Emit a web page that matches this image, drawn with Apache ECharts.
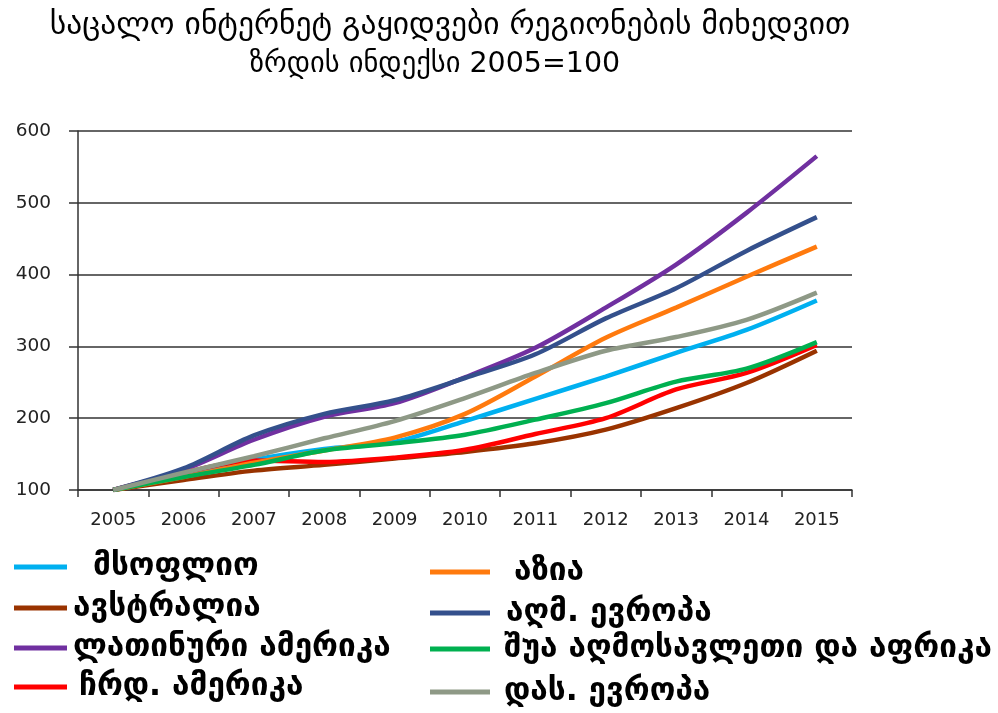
<!DOCTYPE html>
<html>
<head>
<meta charset="utf-8">
<script src="https://cdn.jsdelivr.net/npm/echarts@6/dist/echarts.min.js"></script>
<style>
  html, body { margin: 0; padding: 0; background: #fff; }
  #chart { width: 998px; height: 713px; }
</style>
</head>
<body>
<div id="chart"></div>
<script>
// Online retail sales growth by region, index 2005 = 100
const years = ['2005', '2006', '2007', '2008', '2009', '2010', '2011', '2012', '2013', '2014', '2015'];

const world        = [100, 120, 142, 157, 167, 196, 227, 258, 291, 323, 364];
const australia    = [100, 114, 127, 135, 144, 153, 165, 184, 214, 249, 294];
const latinAmerica = [100, 128, 170, 202, 221, 257, 298, 354, 414, 486, 565];
const northAmerica = [100, 124, 141, 139, 145, 156, 178, 200, 240, 263, 302];
const asia         = [100, 118, 138, 155, 173, 206, 258, 312, 354, 397, 439];
const eastEurope   = [100, 130, 176, 206, 225, 256, 289, 339, 381, 433, 480];
const meAfrica     = [100, 118, 135, 155, 165, 177, 198, 221, 251, 269, 306];
const westEurope   = [100, 124, 147, 172, 196, 228, 263, 294, 313, 337, 375];

const yTicks = [100, 200, 300, 400, 500, 600];

const seriesDefs = [
  { name: 'მსოფლიო',            data: world,        color: '#00B0F0' },
  { name: 'ავსტრალია',          data: australia,    color: '#993300' },
  { name: 'ლათინური ამერიკა',   data: latinAmerica, color: '#7030A0' },
  { name: 'ჩრდ. ამერიკა',       data: northAmerica, color: '#FF0000' },
  { name: 'აზია',               data: asia,         color: '#FF7A0E' },
  { name: 'აღმ. ევროპა',        data: eastEurope,   color: '#34508C' },
  { name: 'შუა აღმოსავლეთი და აფრიკა', data: meAfrica, color: '#00B050' },
  { name: 'დას. ევროპა',        data: westEurope,   color: '#8E9986' }
];

// legend slots: [symbol left, symbol centre y, symbol width, gap to text]
const legendSlots = [
  [14, 567, 53, 26],
  [14, 608, 53, 6],
  [14, 648, 53, 6],
  [14, 687, 53, 12],
  [430, 572, 60, 24],
  [430, 613, 60, 16],
  [430, 649, 60, 14],
  [430, 692, 60, 14]
];

const FONT = 'DejaVu Sans';
const chart = echarts.init(document.getElementById('chart'), null, { renderer: 'canvas' });

const legends = seriesDefs.map((s, i) => {
  const [lx, cy, w, gap] = legendSlots[i];
  return {
    data: [s.name],
    left: lx, top: cy - 18,
    padding: 0,
    icon: 'rect', itemWidth: w, itemHeight: 5, itemGap: 0,
    textStyle: {
      fontFamily: FONT, fontSize: 31.5, fontWeight: 'bold', color: '#000',
      lineHeight: 36, padding: [0, 0, 0, gap - 5]
    }
  };
});

chart.setOption({
  backgroundColor: '#fff',
  animation: false,
  title: [
    {
      text: 'საცალო ინტერნეტ გაყიდვები რეგიონების მიხედვით',
      left: 445, top: 5, textAlign: 'center',
      textStyle: { fontFamily: FONT, fontSize: 31.5, fontWeight: 'normal', color: '#000' }
    },
    {
      text: 'ზრდის ინდექსი 2005=100',
      left: 430, top: 45, textAlign: 'center',
      textStyle: { fontFamily: FONT, fontSize: 28.5, fontWeight: 'normal', color: '#000' }
    }
  ],
  grid: { left: 78, right: 146, top: 131, bottom: 223, containLabel: false },
  xAxis: {
    type: 'category',
    data: years,
    boundaryGap: true,
    axisLine: { show: true, lineStyle: { color: '#333', width: 1.5 } },
    axisTick: { show: true, alignWithLabel: false, length: 7, lineStyle: { color: '#333', width: 1.5 } },
    axisLabel: { fontFamily: FONT, fontSize: 18, color: '#222', margin: 21 }
  },
  yAxis: {
    type: 'value',
    min: yTicks[0], max: yTicks[yTicks.length - 1], interval: 100,
    axisLine: { show: true, lineStyle: { color: '#333', width: 1.5 } },
    axisTick: { show: true, length: 9, lineStyle: { color: '#333', width: 1.5 } },
    axisLabel: { fontFamily: FONT, fontSize: 18.5, color: '#222', margin: 27 },
    splitLine: { show: true, lineStyle: { color: '#333', width: 1.5 } }
  },
  legend: legends,
  series: seriesDefs.map(s => ({
    name: s.name,
    type: 'line',
    data: s.data,
    smooth: 0.3,
    symbol: 'none',
    color: s.color,
    lineStyle: { color: s.color, width: 4.5 }
  }))
});
</script>
</body>
</html>
